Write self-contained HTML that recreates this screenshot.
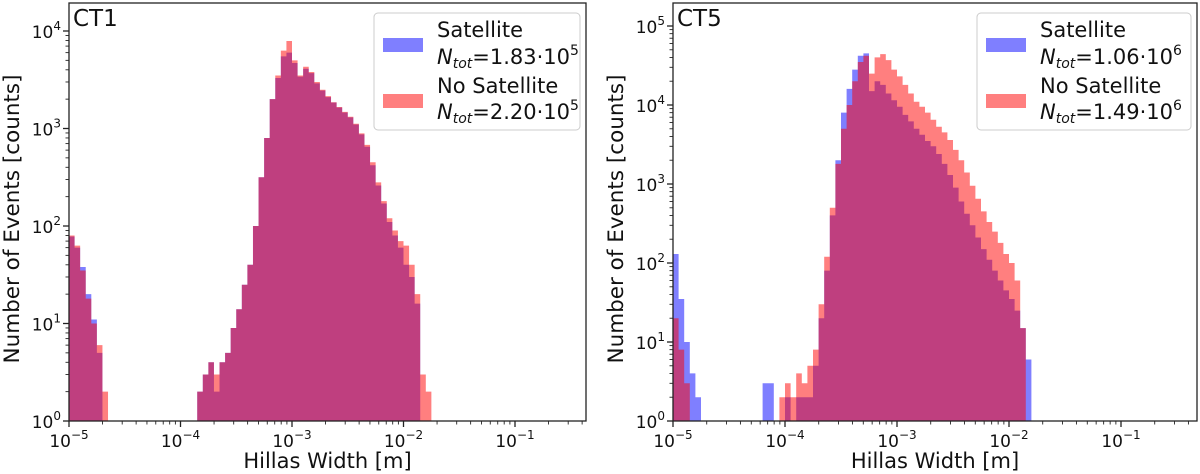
<!DOCTYPE html>
<html><head><meta charset="utf-8">
<style>
body{margin:0;background:#fff;}
svg{display:block;font-family:"DejaVu Sans","Liberation Sans",sans-serif;}
</style></head>
<body>
<svg id="chart" width="1200" height="474" viewBox="0 0 1200 474" xmlns="http://www.w3.org/2000/svg"></svg>
<script>
// Bin layout: log10 edges starting at -5 with 0.05 step
const binStart = -5;
const binStep = 0.05;
// CT1 counts per bin
const ct1Satellite = [78,60,38,20,11,5,0,0,0,0,0,0,0,0,0,0,0,0,0,0,0,0,0,2,3,4,2,4,5,9,14,25,40,100,316,800,2000,3300,5500,6000,4700,3400,4100,3700,2900,2450,2100,1850,1640,1460,1300,1100,870,650,420,260,170,110,80,60,40,30,16,0,0];
const ct1NoSatellite = [80,63,35,18,10,6,2,0,0,0,0,0,0,0,0,0,0,0,0,0,0,0,0,2,3,4,3,4,5,9,14,25,40,100,316,800,2000,3500,6300,7900,5000,3500,4300,3800,3000,2500,2150,1860,1660,1480,1320,1120,890,680,450,280,180,120,90,70,63,40,20,3,2];
// CT5 counts per bin
const ct5Satellite = [130,35,10,4,2,0,0,0,0,0,0,0,0,0,0,0,3,3,0,0,2,0,2,2,2,5,20,80,400,2000,8000,16000,28000,42000,45000,15000,20000,18000,14000,11500,9500,7500,6200,5000,4200,3500,3000,2400,1800,1300,900,600,420,300,210,150,110,80,60,45,35,25,15,6];
const ct5NoSatellite = [20,8,3,0,0,0,0,0,0,0,0,0,0,0,0,0,0,0,0,2,3,2,4,3,5,8,30,120,500,1800,5000,10000,20000,35000,42000,25000,40000,44000,37000,28000,23000,18000,14000,11000,9500,8000,6500,5300,4500,3600,2700,2000,1400,950,650,450,330,250,180,130,100,60,15,0];
const xTickExps = [-5,-4,-3,-2,-1];
const ct1YTickExps = [0,1,2,3,4];
const ct5YTickExps = [0,1,2,3,4,5];

const NS="http://www.w3.org/2000/svg";
const svg=document.getElementById('chart');
function mk(tag,attrs,parent){const e=document.createElementNS(NS,tag);for(const k in attrs)e.setAttribute(k,attrs[k]);(parent||svg).appendChild(e);return e;}

function panel(cfg){
  const g=mk('g',{});
  
  
  const X=lx=>cfg.x0+(lx+5)*cfg.dx;
  const Y=ly=>cfg.yb-ly*cfg.dy;
  const clip=mk('clipPath',{id:'clip'+cfg.id},g);
  mk('rect',{x:cfg.x0,y:cfg.yt,width:cfg.x1-cfg.x0,height:cfg.yb-cfg.yt},clip);
  const bars=mk('g',{'clip-path':'url(#clip'+cfg.id+')'},g);
  function series(arr,color,nm){
    let d='';
    arr.forEach((v,i)=>{
      const a=binStart+i*binStep,b=a+binStep;
      const y=v>=1?Y(Math.log10(v)):cfg.yb;
      if(i===0)d+='M'+X(a)+','+cfg.yb;
      d+=' L'+X(a)+','+y+' L'+X(b)+','+y;
      if(i===arr.length-1)d+=' L'+X(b)+','+cfg.yb+' Z';
    });
    const p=mk('path',{d:d,fill:color},bars);
    
    
  }
  series(cfg.sat,'rgba(0,0,255,0.5)','satellite-histogram');
  series(cfg.nosat,'rgba(255,0,0,0.5)','no-satellite-histogram');
  const fr=mk('rect',{x:cfg.x0,y:cfg.yt,width:cfg.x1-cfg.x0,height:cfg.yb-cfg.yt,fill:'none',stroke:'#222','stroke-width':1.3},g);
  
  
  const xmax=(cfg.x1-cfg.x0)/cfg.dx-5;
  for(let e=-5;e<=0;e++){
    for(let m=1;m<10;m++){
      const lx=e+Math.log10(m);
      if(lx>xmax)break;
      const px=X(lx);
      mk('line',{x1:px,x2:px,y1:cfg.yb,y2:cfg.yb+(m==1?6:3.5),stroke:'#222','stroke-width':m==1?1.3:0.9},g);
    }
  }
  xTickExps.forEach(e=>{
    const t=mk('text',{x:X(e),y:cfg.yb+26,'text-anchor':'middle','font-size':17,fill:'#111'},g);
    
    
    t.innerHTML='10<tspan dy="-8" font-size="12">'+(e<0?'\u2212'+(-e):e)+'</tspan>';
  });
  const ymax=(cfg.yb-cfg.yt)/cfg.dy;
  for(let e=0;e<=6;e++){
    for(let m=1;m<10;m++){
      const ly=e+Math.log10(m);
      if(ly>ymax)break;
      const py=Y(ly);
      mk('line',{x1:cfg.x0,x2:cfg.x0-(m==1?6:3.5),y1:py,y2:py,stroke:'#222','stroke-width':m==1?1.3:0.9},g);
    }
  }
  cfg.yt_exps.forEach(e=>{
    const t=mk('text',{x:cfg.x0-8,y:Y(e)+7,'text-anchor':'end','font-size':17,fill:'#111'},g);
    
    
    t.innerHTML='10<tspan dy="-8" font-size="12">'+e+'</tspan>';
  });
  const xl=mk('text',{x:(cfg.x0+cfg.x1)/2,y:468,'text-anchor':'middle','font-size':21,fill:'#111'},g);
  
  
  xl.textContent='Hillas Width [m]';
  const yl=mk('text',{x:0,y:0,'text-anchor':'middle','font-size':21.5,fill:'#111',transform:'translate('+(cfg.x0-cfg.ylabOff)+',219) rotate(-90)'},g);
  
  
  yl.textContent='Number of Events [counts]';
  const tt=mk('text',{x:cfg.x0+4,y:cfg.yt+23,'font-size':23,fill:'#111'},g);
  
  
  tt.textContent=cfg.title;
  const lg=mk('g',{},g);
  
  
  const L=cfg.legX;
  mk('rect',{x:L,y:13,width:cfg.x1-6-L,height:117,rx:4,fill:'rgba(255,255,255,0.85)',stroke:'#ccc'},lg);
  const p1=mk('rect',{x:L+9,y:38,width:40,height:14,fill:'rgba(0,0,255,0.5)'},lg);
  
  
  const p2=mk('rect',{x:L+9,y:94,width:40,height:14,fill:'rgba(255,0,0,0.5)'},lg);
  
  
  const tx=L+63;
  const lines=[[37,'Satellite'],[64,'<tspan font-style="italic">N</tspan><tspan font-style="italic" font-size="14" dy="4">tot</tspan><tspan dy="-4">='+cfg.n1+'\u00b710</tspan><tspan dy="-9" font-size="14">'+cfg.e1+'</tspan>'],[93,'No Satellite'],[119,'<tspan font-style="italic">N</tspan><tspan font-style="italic" font-size="14" dy="4">tot</tspan><tspan dy="-4">='+cfg.n2+'\u00b710</tspan><tspan dy="-9" font-size="14">'+cfg.e2+'</tspan>']];
  lines.forEach(([yy,h])=>{
    const t=mk('text',{x:tx,y:yy,'font-size':21,fill:'#111'},lg);
    
    
    t.innerHTML=h;
  });
}
panel({id:1,name:'ct1-panel',x0:69,x1:586,yt:3,yb:421,dx:111.5,dy:97.5,sat:ct1Satellite,nosat:ct1NoSatellite,yt_exps:ct1YTickExps,title:'CT1',legX:374,n1:'1.83',e1:5,n2:'2.20',e2:5,ylabOff:50});
panel({id:2,name:'ct5-panel',x0:673,x1:1197,yt:3,yb:421,dx:112,dy:79,sat:ct5Satellite,nosat:ct5NoSatellite,yt_exps:ct5YTickExps,title:'CT5',legX:977,n1:'1.06',e1:6,n2:'1.49',e2:6,ylabOff:50});
</script>
</body></html>
